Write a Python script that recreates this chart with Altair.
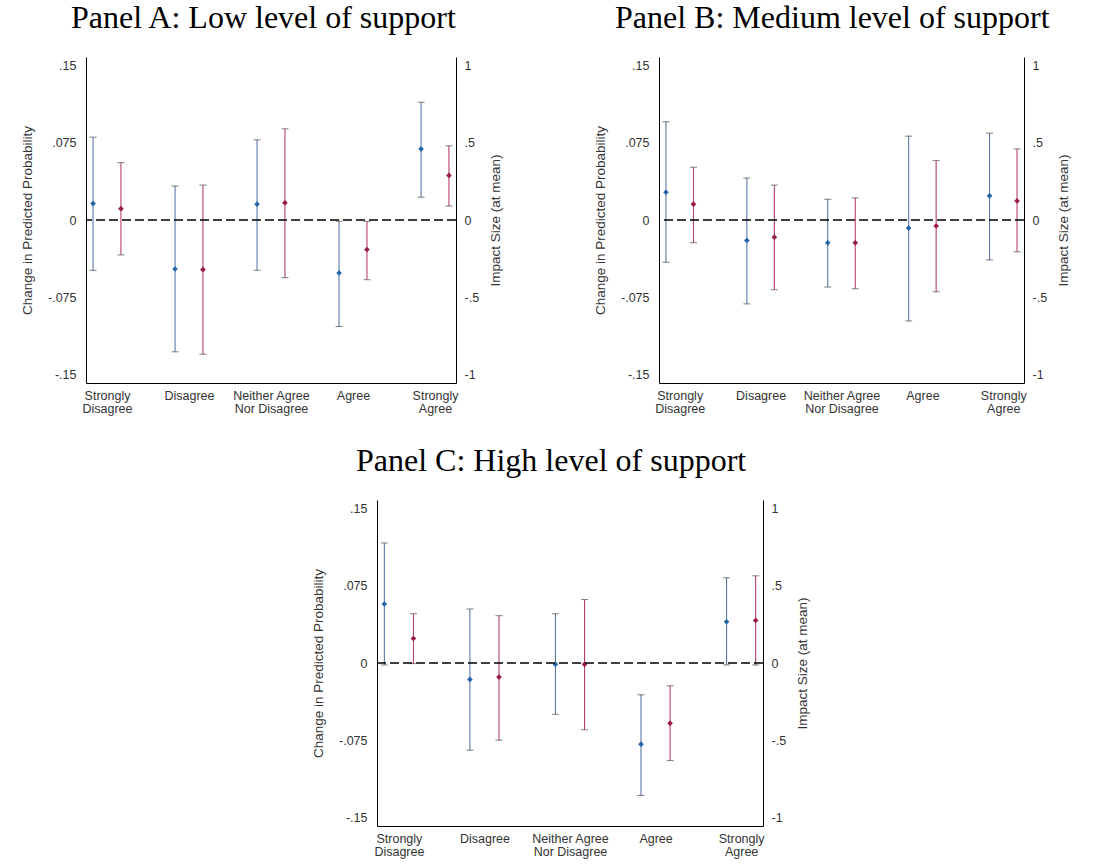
import json
import altair as alt
import pandas as pd

# ---------------- data ----------------
categories = ["Strongly Disagree", "Disagree", "Neither Agree Nor Disagree", "Agree", "Strongly Agree"]
label_lines = [["Strongly", "Disagree"], ["Disagree"], ["Neither Agree", "Nor Disagree"], ["Agree"], ["Strongly", "Agree"]]
series_names = ["blue", "red"]
left_ticks = [-0.15, -0.075, 0, 0.075, 0.15]
right_ticks = [-1, -0.5, 0, 0.5, 1]

panel_titles = ["Panel A: Low level of support",
                "Panel B: Medium level of support",
                "Panel C: High level of support"]

# Panel A
a_blue_est = [0.0159, -0.0474, 0.0153, -0.0513, 0.0688]
a_blue_lo = [-0.0487, -0.1276, -0.0487, -0.1032, 0.0221]
a_blue_hi = [0.0802, 0.0328, 0.0776, -0.0013, 0.1140]
a_red_est = [0.0110, -0.0480, 0.0166, -0.0286, 0.0432]
a_red_lo = [-0.0338, -0.1299, -0.0558, -0.0578, 0.0136]
a_red_hi = [0.0555, 0.0338, 0.0883, -0.0013, 0.0718]

# Panel B
b_blue_est = [0.0269, -0.0198, -0.0221, -0.0078, 0.0234]
b_blue_lo = [-0.0409, -0.0812, -0.0649, -0.0977, -0.0386]
b_blue_hi = [0.0951, 0.0406, 0.0201, 0.0812, 0.0841]
b_red_est = [0.0153, -0.0166, -0.0221, -0.0058, 0.0185]
b_red_lo = [-0.0221, -0.0675, -0.0666, -0.0695, -0.0308]
b_red_hi = [0.0510, 0.0338, 0.0214, 0.0575, 0.0688]

# Panel C
c_blue_est = [0.0571, -0.0159, -0.0013, -0.0786, 0.0399]
c_blue_lo = [-0.0019, -0.0844, -0.0497, -0.1282, -0.0019]
c_blue_hi = [0.1162, 0.0523, 0.0477, -0.0308, 0.0825]
c_red_est = [0.0237, -0.0136, -0.0013, -0.0584, 0.0412]
c_red_lo = [-0.0006, -0.0747, -0.0646, -0.0945, -0.0019]
c_red_hi = [0.0477, 0.0458, 0.0614, -0.0221, 0.0844]

# ---------------- style ----------------
BAR_COLORS = ["#5a78a8", "#b8426e"]
PT_COLORS = ["#2265a8", "#9a1c44"]
CAP_COLOR = "#4a4a4a"
YDOM = 0.1578
RDOM = YDOM / 0.15
PLOT_H = 326
FONT = "Liberation Sans"

xlabel_expr = json.dumps(label_lines) + "[datum.value - 1]"
num_expr = "(datum.value < 0 ? '-' : '') + replace(toString(abs(datum.value)), '0.', '.')"


def make_df(be, bl, bh, re_, rl, rh):
    rows = []
    for s, est, lo, hi in [(series_names[0], be, bl, bh), (series_names[1], re_, rl, rh)]:
        for i in range(len(categories)):
            rows.append({"idx": i + 1, "category": categories[i], "series": s,
                         "est": est[i], "lo": lo[i], "hi": hi[i]})
    return pd.DataFrame(rows)


def make_panel(title, df, width, title_dx):
    base = alt.Chart(df).transform_calculate(
        xpos="datum.idx + (datum.series == 'blue' ? -0.17 : 0.17)"
    )
    xenc = alt.X("xpos:Q",
                 scale=alt.Scale(domain=[0.744, 5.256], nice=False, zero=False),
                 axis=alt.Axis(values=[1, 2, 3, 4, 5], labelExpr=xlabel_expr, ticks=False,
                               labelPadding=6, title=None, domainColor="#000",
                               labelLineHeight=13, labelBaseline="top"))
    yscale = alt.Scale(domain=[-YDOM, YDOM], nice=False, zero=False)
    yaxis = alt.Axis(values=left_ticks, labelExpr=num_expr, ticks=False, labelPadding=10,
                     title="Change in Predicted Probability", titlePadding=13,
                     domainColor="#000")
    bars = base.mark_rule(strokeWidth=1.1).encode(
        x=xenc,
        y=alt.Y("lo:Q", scale=yscale, axis=yaxis),
        y2="hi:Q",
        color=alt.Color("series:N", scale=alt.Scale(domain=series_names, range=BAR_COLORS), legend=None),
    )
    cap_lo = base.mark_tick(orient="horizontal", size=7, thickness=1, color=CAP_COLOR).encode(
        x="xpos:Q", y="lo:Q")
    cap_hi = base.mark_tick(orient="horizontal", size=7, thickness=1, color=CAP_COLOR).encode(
        x="xpos:Q", y="hi:Q")
    pts = base.mark_point(filled=True, shape="diamond", size=32, opacity=1).encode(
        x="xpos:Q", y="est:Q",
        color=alt.Color("series:N", scale=alt.Scale(domain=series_names, range=PT_COLORS), legend=None),
    )
    left = alt.layer(bars, cap_lo, cap_hi, pts).resolve_scale(color="independent")
    right = alt.Chart(pd.DataFrame({"v": [0]})).mark_rule(
        color="#000", strokeDash=[9, 4], strokeWidth=1.3
    ).encode(
        y=alt.Y("v:Q", scale=alt.Scale(domain=[-RDOM, RDOM], nice=False, zero=False),
                axis=alt.Axis(orient="right", values=right_ticks, labelExpr=num_expr, ticks=False,
                              labelPadding=8, title="Impact Size (at mean)", titleAngle=270,
                              titleBaseline="top", titlePadding=10, domainColor="#000"))
    )
    return alt.layer(left, right).resolve_scale(y="independent").properties(
        width=width, height=PLOT_H,
        title=alt.TitleParams(title, font="Liberation Serif", fontSize=32, fontWeight="normal",
                              anchor="start", frame="group", dx=title_dx, offset=22, color="#000"),
    )


pA = make_panel(panel_titles[0], make_df(a_blue_est, a_blue_lo, a_blue_hi, a_red_est, a_red_lo, a_red_hi), 370, -15)
pB = make_panel(panel_titles[1], make_df(b_blue_est, b_blue_lo, b_blue_hi, b_red_est, b_red_lo, b_red_hi), 365, -44)
pC = make_panel(panel_titles[2], make_df(c_blue_est, c_blue_lo, c_blue_hi, c_red_est, c_red_lo, c_red_hi), 386, -21)

spacer = alt.Chart(pd.DataFrame({"a": [0]})).mark_point(opacity=0).encode(
    x=alt.value(0), y=alt.value(0)).properties(width=225, height=10)

row1 = alt.hconcat(pA, pB, spacing=90)
row2 = alt.hconcat(spacer, pC, spacing=0)

chart = alt.vconcat(row1, row2, spacing=30).properties(
    padding={"left": 20, "top": 2, "right": 5, "bottom": 5}
).configure_view(stroke=None).configure_axis(
    grid=False, labelFont=FONT, labelFontSize=12.5, labelColor="#333",
    titleFont=FONT, titleFontSize=13.5, titleFontWeight="normal", titleColor="#333",
    domainWidth=1
).configure_concat(spacing=0)

chart.save("out.html", embed_options={"renderer": "svg", "actions": False})
